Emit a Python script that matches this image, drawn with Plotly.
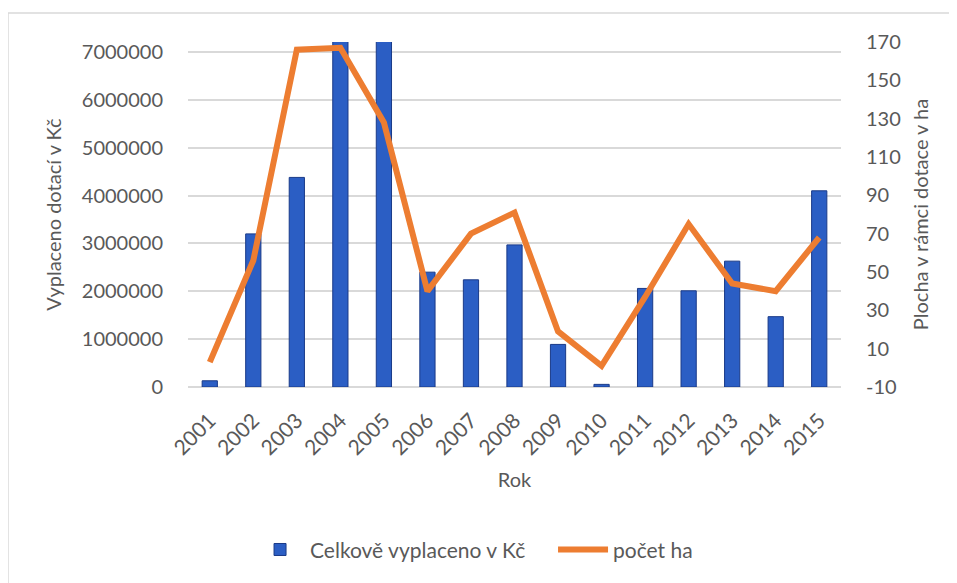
import plotly.graph_objects as go

years = ["2001", "2002", "2003", "2004", "2005", "2006", "2007", "2008",
         "2009", "2010", "2011", "2012", "2013", "2014", "2015"]
vyplaceno_kc = [130000, 3200000, 4380000, 7250000, 7250000, 2400000, 2240000, 2970000,
                890000, 55000, 2060000, 2010000, 2630000, 1470000, 4100000]
pocet_ha = [3, 56, 166, 167, 128, 40, 70, 81, 19, 1, 37, 75, 44, 40, 68]

left_ticks = [0, 1000000, 2000000, 3000000, 4000000, 5000000, 6000000, 7000000]
right_ticks = [-10, 10, 30, 50, 70, 90, 110, 130, 150, 170]

FONT = "Lato"
GREY = "#595959"
CLEAR = "rgba(0,0,0,0)"

fig = go.Figure()
fig.add_trace(go.Bar(
    x=years, y=vyplaceno_kc, name="Celkově vyplaceno v Kč",
    marker=dict(color="#2B5EC4", line=dict(color="#1A3A88", width=1)),
    yaxis="y",
))
fig.add_trace(go.Scatter(
    x=years, y=pocet_ha, name="počet ha", mode="lines",
    line=dict(color="#ED7D31", width=6),
    yaxis="y2",
))

fig.update_layout(
    width=949, height=575,
    margin=dict(l=180, r=116, t=34, b=196, autoexpand=False),
    paper_bgcolor="white", plot_bgcolor="white",
    font=dict(family=FONT, size=20, color=GREY),
    bargap=0.65,
    showlegend=True,
    legend=dict(orientation="h", x=0.095, xanchor="left", y=-0.472, yanchor="middle",
                font=dict(size=21, color=GREY), itemwidth=50, entrywidth=238),
    xaxis=dict(
        type="category", tickangle=-45, tickfont=dict(size=21, color=GREY),
        showline=False, showgrid=False, ticks="outside", ticklen=12, tickcolor=CLEAR,
        title=dict(text="Rok", font=dict(size=20, color=GREY), standoff=14),
    ),
    yaxis=dict(
        range=[0, 7210000], tickvals=left_ticks, ticktext=[str(v) for v in left_ticks],
        showgrid=True, gridcolor="#D9D9D9", gridwidth=1.5, zeroline=True,
        zerolinecolor="#D9D9D9", zerolinewidth=1.5,
        ticks="outside", ticklen=20, tickcolor=CLEAR,
        tickfont=dict(size=20, color=GREY),
        title=dict(text="Vyplaceno dotací v Kč", font=dict(size=20, color=GREY), standoff=14),
    ),
    yaxis2=dict(
        range=[-10, 170], tickvals=right_ticks, ticktext=[str(v) for v in right_ticks],
        overlaying="y", side="right",
        showgrid=False, zeroline=False,
        ticks="outside", ticklen=20, tickcolor=CLEAR,
        tickfont=dict(size=20, color=GREY),
        title=dict(text="Plocha v rámci dotace v ha", font=dict(size=20, color=GREY), standoff=14),
    ),
    shapes=[dict(type="rect", xref="paper", yref="paper",
                 x0=-0.2757, x1=1.1715, y0=-0.60, y1=1.084,
                 line=dict(color="#D9D9D9", width=1.5), layer="below")],
)

fig.write_html("out.html")
